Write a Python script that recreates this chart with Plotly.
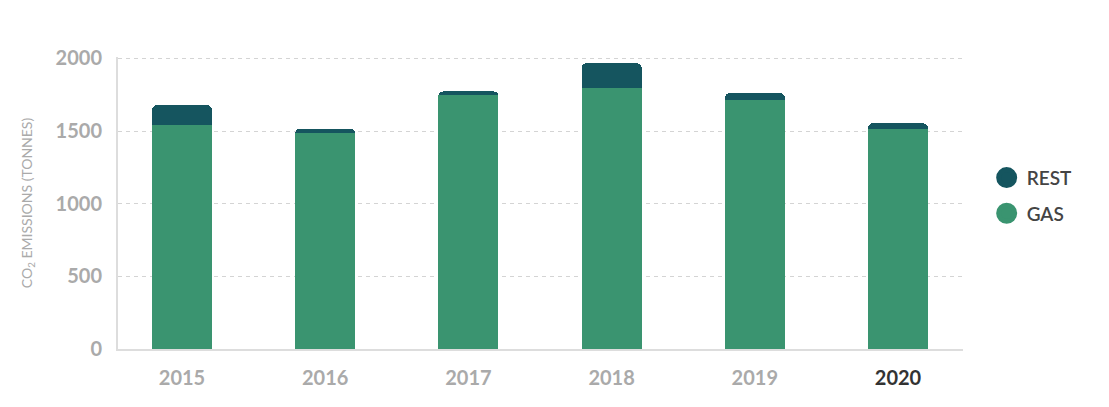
import plotly.graph_objects as go

years = ["2015", "2016", "2017", "2018", "2019", "2020"]
gas = [1540, 1484, 1750, 1796, 1711, 1517]
rest = [138, 33, 23, 171, 50, 37]
y_ticks = [0, 500, 1000, 1500, 2000]

GAS_C = "#3a9470"
REST_C = "#15555f"

ticktext = [y if y != "2020" else "<span style='color:#333333'>2020</span>" for y in years]

fig = go.Figure()
fig.add_trace(go.Bar(x=years, y=gas, name="GAS", marker=dict(color=GAS_C, line=dict(width=0)),
                     width=0.42, showlegend=False, hoverinfo="y"))
fig.add_trace(go.Bar(x=years, y=rest, name="REST", marker=dict(color=REST_C, line=dict(width=0)),
                     width=0.42, showlegend=False, hoverinfo="y"))
# legend entries with circular symbols
fig.add_trace(go.Scatter(x=[None], y=[None], mode="markers", name="REST", legendgroup="rest",
                         marker=dict(color=REST_C, size=16, symbol="circle",
                                     line=dict(color=REST_C, width=5))))
fig.add_trace(go.Scatter(x=[None], y=[None], mode="markers", name="GAS", legendgroup="gas",
                         marker=dict(color=GAS_C, size=16, symbol="circle",
                                     line=dict(color=GAS_C, width=5))))

fig.update_layout(
    width=1109, height=407,
    barmode="stack",
    barcornerradius=5,
    plot_bgcolor="white", paper_bgcolor="white",
    margin=dict(l=110, r=154, t=49, b=66),
    font=dict(family="Lato", color="#aaaaaa"),
    showlegend=True,
    legend=dict(x=1.028, xanchor="left", y=0.525, yanchor="middle",
                font=dict(size=19, color="#444444", family="Lato", weight=600),
                traceorder="grouped", itemsizing="trace", tracegroupgap=8),
    xaxis=dict(type="category", categoryorder="array", categoryarray=years,
               tickvals=years, ticktext=ticktext,
               range=[-0.447, 5.454], showgrid=False,
               showline=True, linecolor="#dddddd", linewidth=2,
               ticks="", ticklabelstandoff=10, automargin=False,
               tickfont=dict(size=20, color="#aaaaaa", family="Lato", weight="bold"),
               zeroline=False),
    yaxis=dict(range=[0, 2010], tickvals=y_ticks,
               showgrid=True, gridcolor="#d4d4d4", griddash="4px,4px", gridwidth=1,
               showline=True, linecolor="#dddddd", linewidth=2,
               zeroline=False, ticks="", ticklabelstandoff=10, automargin=False,
               tickfont=dict(size=20, color="#aaaaaa", family="Lato", weight="bold"),
               title=dict(text="CO<sub>2</sub> EMISSIONS (TONNES)", standoff=20,
                          font=dict(size=14, color="#aaaaaa", family="Lato"))),
)

fig.write_html("out.html")
